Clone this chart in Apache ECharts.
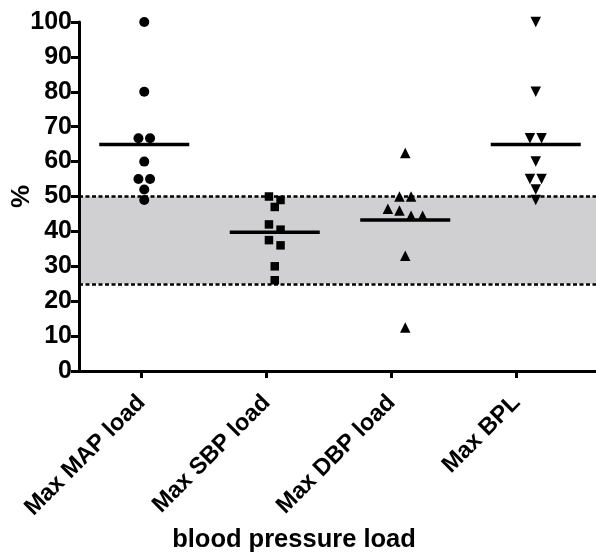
<!DOCTYPE html>
<html>
<head>
<meta charset="utf-8">
<script src="https://cdn.jsdelivr.net/npm/echarts@6/dist/echarts.min.js"></script>
<style>
  html, body { margin: 0; padding: 0; background: #ffffff; }
  #chart { width: 596px; height: 555px; }
</style>
</head>
<body>
<div id="chart"></div>
<script>
// Categories along the x axis
const categories = ['Max MAP load', 'Max SBP load', 'Max DBP load', 'Max BPL'];

// Individual loads (%) per category
const mapLoad = [100, 80, 66.7, 66.7, 60, 55, 55, 52, 49];
const sbpLoad = [50, 49, 47, 42, 40.5, 37.5, 36, 30, 26];
const dbpLoad = [62.5, 50, 50, 46.5, 46, 44.5, 44.5, 33, 12.5];
const bplLoad = [100, 80, 66.7, 66.7, 60, 55, 55, 52, 49];

// Y axis ticks (%)
const yTicks = [0, 10, 20, 30, 40, 50, 60, 70, 80, 90, 100];

// Shaded reference range (%)
const referenceBand = [25, 50];

const FONT = '"Liberation Sans", Arial, Helvetica, sans-serif';

// Spread points with nearly equal values side by side (simple column scatter)
function swarmOffsets(values, chainGap, step) {
  const order = values.map((v, i) => i).sort((a, b) => values[b] - values[a]);
  const offsets = new Array(values.length).fill(0);
  let row = [];
  const flush = () => {
    row.forEach((idx, k) => { offsets[idx] = (k - (row.length - 1) / 2) * step; });
    row = [];
  };
  order.forEach(idx => {
    if (row.length && values[row[row.length - 1]] - values[idx] > chainGap) flush();
    row.push(idx);
  });
  flush();
  return offsets;
}

const groups = [
  { values: mapLoad, symbol: 'circle', size: 10, rotate: 0 },
  { values: sbpLoad, symbol: 'rect', size: 8.5, rotate: 0 },
  { values: dbpLoad, symbol: 'triangle', size: 10.5, rotate: 0 },
  { values: bplLoad, symbol: 'triangle', size: 10.5, rotate: 180 }
];

const mean = arr => arr.reduce((s, v) => s + v, 0) / arr.length;

const scatterSeries = groups.map((g, ci) => {
  const offs = swarmOffsets(g.values, 1.8, 11.6);
  return {
    type: 'scatter',
    name: categories[ci],
    xAxisIndex: 0,
    yAxisIndex: 0,
    symbol: g.symbol,
    symbolSize: g.size,
    symbolRotate: g.rotate,
    itemStyle: { color: '#000000', opacity: 1 },
    z: 4,
    silent: true,
    data: g.values.map((v, i) => ({ value: [ci, v], symbolOffset: [offs[i], 0] }))
  };
});

// Reference band and its dotted borders ride on the first series
scatterSeries[0].markArea = {
  silent: true,
  itemStyle: { color: '#d0d0d2' },
  data: [[{ yAxis: referenceBand[0] }, { yAxis: referenceBand[1] }]]
};
scatterSeries[0].markLine = {
  silent: true,
  symbol: 'none',
  label: { show: false },
  lineStyle: { color: '#000000', width: 2.5, type: [4, 2.5] },
  data: referenceBand.map(v => ({ yAxis: v }))
};

// Mean bar for each category
const meanSeries = {
  type: 'custom',
  xAxisIndex: 0,
  yAxisIndex: 0,
  z: 3,
  silent: true,
  data: groups.map((g, ci) => [ci, mean(g.values)]),
  renderItem(params, api) {
    const c = api.coord([api.value(0), api.value(1)]);
    const half = api.size([1, 0])[0] * 0.345;
    return {
      type: 'line',
      shape: { x1: c[0] - half, y1: c[1], x2: c[0] + half, y2: c[1] },
      style: { stroke: '#000000', lineWidth: 3.5 }
    };
  }
};

const axisText = { color: '#000000', fontFamily: FONT, fontWeight: 'bold' };
const axisStroke = { color: '#000000', width: 3 };

const chart = echarts.init(document.getElementById('chart'), null, { renderer: 'canvas' });
chart.setOption({
  animation: false,
  backgroundColor: '#ffffff',
  grid: [
    // plotting area (data columns, reference band)
    { left: 79, right: -5, top: 22, bottom: 184, containLabel: false, outerBoundsMode: 'none' },
    // category tick marks and labels under the axis
    { left: 79, right: 17, top: 22, bottom: 184, containLabel: false, outerBoundsMode: 'none' }
  ],
  xAxis: [
    {
      type: 'category',
      gridIndex: 0,
      data: categories,
      boundaryGap: true,
      z: 6,
      axisLine: { show: true, lineStyle: axisStroke },
      axisTick: { show: false },
      axisLabel: { show: false },
      splitLine: { show: false }
    },
    {
      type: 'category',
      gridIndex: 1,
      data: categories,
      boundaryGap: true,
      z: 6,
      axisLine: { show: true, lineStyle: axisStroke },
      axisTick: { show: true, alignWithLabel: true, length: 7, lineStyle: axisStroke },
      axisLabel: Object.assign({ rotate: 45, margin: 28, fontSize: 23.5 }, axisText),
      splitLine: { show: false }
    }
  ],
  yAxis: [
    {
      type: 'value',
      gridIndex: 0,
      min: yTicks[0],
      max: yTicks[yTicks.length - 1],
      interval: yTicks[1] - yTicks[0],
      z: 6,
      name: '%',
      nameLocation: 'middle',
      nameGap: 44,
      nameRotate: 90,
      nameMoveOverlap: false,
      nameTextStyle: Object.assign({ fontSize: 26 }, axisText),
      axisLine: { show: true, lineStyle: axisStroke },
      axisTick: { show: true, length: 8, lineStyle: axisStroke },
      axisLabel: Object.assign({ margin: 7, fontSize: 25 }, axisText),
      splitLine: { show: false }
    },
    {
      type: 'value',
      gridIndex: 1,
      min: yTicks[0],
      max: yTicks[yTicks.length - 1],
      show: false
    }
  ],
  graphic: [{
    type: 'text',
    x: 294,
    y: 553,
    style: {
      text: 'blood pressure load',
      fill: '#000000',
      font: 'bold 25.5px ' + FONT,
      textAlign: 'center',
      textVerticalAlign: 'bottom'
    }
  }],
  series: [...scatterSeries, meanSeries]
});
</script>
</body>
</html>
